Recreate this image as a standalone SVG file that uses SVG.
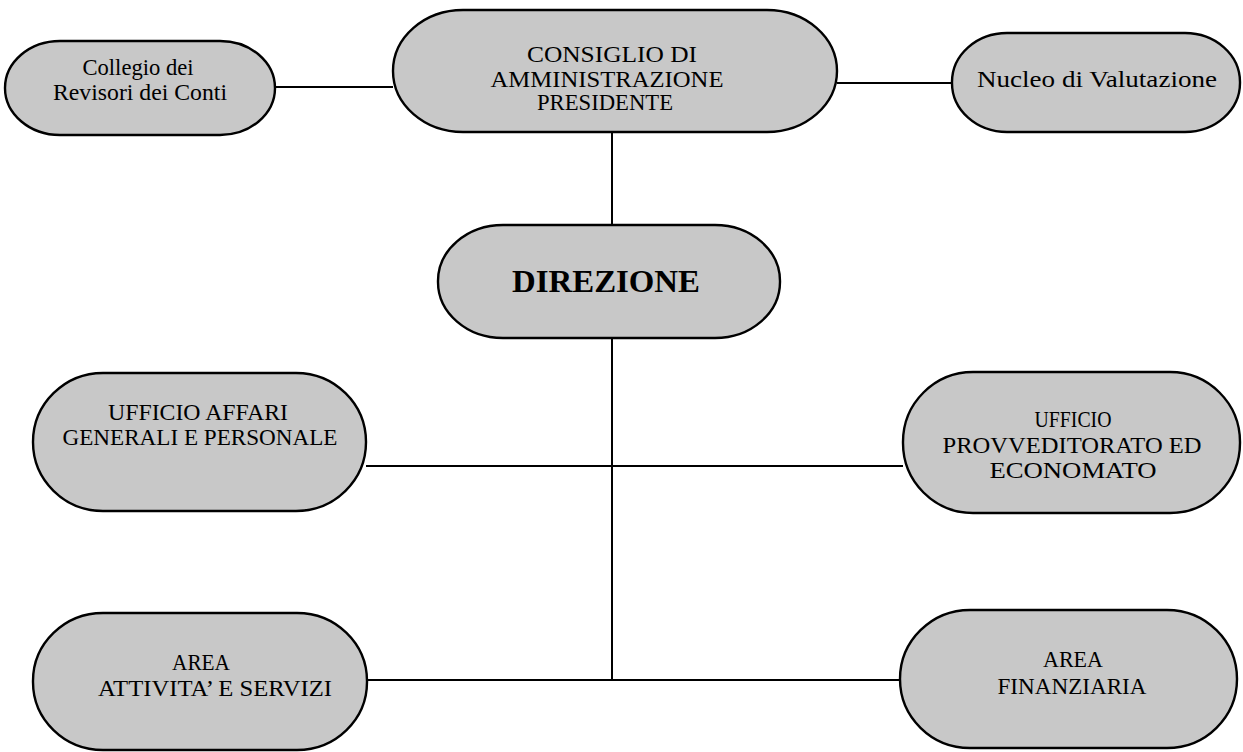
<svg xmlns="http://www.w3.org/2000/svg" width="1243" height="752" viewBox="0 0 1243 752">
<style>
.box{fill:#c8c8c8;stroke:#000;stroke-width:2.4}
.t{font-family:"Liberation Serif","Times New Roman",serif;font-size:23px;fill:#000;text-anchor:middle}
.big{font-size:32px;font-weight:bold}
.conn line{stroke:#000;stroke-width:2}
</style>
<rect width="1243" height="752" fill="#fff"/>
<g class="conn">
<line x1="275" y1="87" x2="393" y2="87"/>
<line x1="837" y1="83" x2="952" y2="83"/>
<line x1="612" y1="132" x2="612" y2="226"/>
<line x1="612" y1="338" x2="612" y2="680"/>
<line x1="366" y1="466" x2="903" y2="466"/>
<line x1="367" y1="680" x2="900" y2="680"/>
</g>
<g id="collegio">
<rect class="box" x="5" y="41" width="270" height="94" rx="55" ry="47"/>
<text class="t" x="138" y="75" textLength="111" lengthAdjust="spacingAndGlyphs">Collegio dei</text>
<text class="t" x="140" y="100" textLength="174" lengthAdjust="spacingAndGlyphs">Revisori dei Conti</text>
</g>
<g id="consiglio">
<rect class="box" x="393" y="10" width="444" height="122" rx="70" ry="61"/>
<text class="t" x="612" y="62" textLength="170" lengthAdjust="spacingAndGlyphs">CONSIGLIO DI</text>
<text class="t" x="607" y="87" textLength="233" lengthAdjust="spacingAndGlyphs">AMMINISTRAZIONE</text>
<text class="t" x="605" y="110" textLength="136" lengthAdjust="spacingAndGlyphs">PRESIDENTE</text>
</g>
<g id="nucleo">
<rect class="box" x="952" y="33" width="288" height="99" rx="55" ry="49"/>
<text class="t" x="1097" y="87" textLength="240" lengthAdjust="spacingAndGlyphs">Nucleo di Valutazione</text>
</g>
<g id="direzione">
<rect class="box" x="438" y="225" width="342" height="113" rx="65" ry="56"/>
<text class="t big" x="606" y="292" textLength="188" lengthAdjust="spacingAndGlyphs">DIREZIONE</text>
</g>
<g id="affari">
<rect class="box" x="33" y="373" width="333" height="138" rx="70" ry="69"/>
<text class="t" x="198" y="420" textLength="180" lengthAdjust="spacingAndGlyphs">UFFICIO AFFARI</text>
<text class="t" x="200" y="445" textLength="275" lengthAdjust="spacingAndGlyphs">GENERALI E PERSONALE</text>
</g>
<g id="provveditorato">
<rect class="box" x="903" y="372" width="337" height="141" rx="70" ry="70"/>
<text class="t" x="1073" y="427" textLength="77" lengthAdjust="spacingAndGlyphs">UFFICIO</text>
<text class="t" x="1072" y="453" textLength="259" lengthAdjust="spacingAndGlyphs">PROVVEDITORATO ED</text>
<text class="t" x="1073" y="478" textLength="167" lengthAdjust="spacingAndGlyphs">ECONOMATO</text>
</g>
<g id="attivita">
<rect class="box" x="33" y="613" width="334" height="137" rx="70" ry="68"/>
<text class="t" x="201" y="670" textLength="58" lengthAdjust="spacingAndGlyphs">AREA</text>
<text class="t" x="215" y="696" textLength="234" lengthAdjust="spacingAndGlyphs">ATTIVITA’ E SERVIZI</text>
</g>
<g id="finanziaria">
<rect class="box" x="900" y="610" width="337" height="138" rx="70" ry="69"/>
<text class="t" x="1073" y="667" textLength="60" lengthAdjust="spacingAndGlyphs">AREA</text>
<text class="t" x="1072" y="694" textLength="149" lengthAdjust="spacingAndGlyphs">FINANZIARIA</text>
</g>
</svg>
